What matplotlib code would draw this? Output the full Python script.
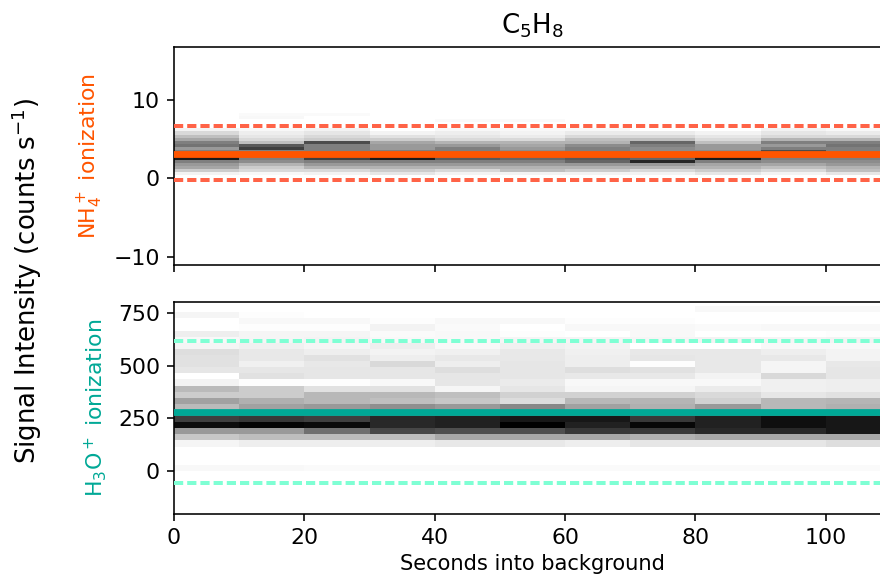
import numpy as np
import matplotlib
matplotlib.use("Agg")
import matplotlib.pyplot as plt

# ---------------- data ----------------
title = "C$_5$H$_8$"
time_edges = [0, 10, 20, 30, 40, 50, 60, 70, 80, 90, 100, 110]

# NH4+ panel: histogram rows (darkness 0-100), bins of 0.4 starting at 0.4
nh4_row_edges = [0.4, 0.8, 1.2, 1.6, 2.0, 2.4, 2.8, 3.2, 3.6, 4.0, 4.4,
                 4.8, 5.2, 5.6, 6.0, 6.4, 6.8, 7.2, 7.6, 8.0, 8.4]
# each list = one time bin (column), from lowest row to highest row
nh4_col0 = [5, 20, 35, 40, 50, 90, 60, 50, 40, 55, 50, 35, 25, 15, 5, 0, 0, 0, 0, 0]
nh4_col1 = [3, 15, 20, 30, 45, 50, 50, 50, 75, 65, 25, 15, 10, 7, 3, 0, 0, 0, 3, 2]
nh4_col2 = [5, 15, 30, 40, 50, 75, 50, 50, 50, 50, 70, 20, 15, 10, 5, 0, 0, 0, 0, 2]
nh4_col3 = [10, 20, 30, 40, 50, 90, 60, 50, 40, 40, 35, 20, 12, 5, 0, 0, 0, 0, 0, 0]
nh4_col4 = [5, 15, 30, 40, 50, 65, 60, 50, 50, 40, 30, 15, 10, 7, 3, 0, 0, 2, 0, 0]
nh4_col5 = [5, 25, 30, 40, 50, 60, 50, 45, 40, 35, 30, 15, 8, 5, 3, 0, 0, 2, 0, 0]
nh4_col6 = [5, 20, 30, 40, 60, 65, 50, 50, 50, 45, 30, 25, 15, 8, 3, 0, 0, 0, 0, 0]
nh4_col7 = [5, 15, 30, 40, 85, 60, 50, 45, 45, 50, 60, 25, 15, 8, 0, 0, 0, 0, 0, 0]
nh4_col8 = [10, 20, 30, 35, 50, 90, 50, 45, 40, 40, 25, 15, 10, 5, 0, 0, 0, 0, 0, 0]
nh4_col9 = [5, 15, 25, 35, 45, 50, 50, 70, 50, 40, 50, 30, 15, 10, 5, 0, 0, 0, 0, 0]
nh4_col10 = [10, 25, 30, 40, 45, 50, 90, 50, 50, 55, 50, 30, 15, 8, 3, 0, 0, 0, 0, 0]
nh4_median = 3.16
nh4_upper = 6.7
nh4_lower = -0.23

# H3O+ panel: histogram rows (darkness 0-100), bins of 29 starting at 0
h3o_row_edges = [0, 29, 58, 87, 116, 145, 174, 203, 232, 261, 290, 319, 348,
                 377, 406, 435, 464, 493, 522, 551, 580, 609, 638, 667, 696,
                 725, 754, 783]
h3o_col0 = [3, 0, 0, 0, 4, 22, 40, 95, 75, 55, 27, 37, 20, 27, 5, 0, 10, 12, 12, 13, 4, 3, 7, 0, 0, 4, 0]
h3o_col1 = [3, 0, 0, 0, 7, 26, 40, 98, 78, 55, 37, 31, 20, 20, 1, 12, 10, 6, 9, 9, 6, 4, 4, 1, 3, 1, 0]
h3o_col2 = [2, 0, 0, 0, 7, 26, 56, 96, 75, 55, 40, 28, 28, 12, 1, 10, 10, 9, 12, 7, 4, 5, 4, 1, 3, 0, 0]
h3o_col3 = [2, 0, 0, 0, 7, 26, 72, 84, 84, 55, 44, 25, 28, 12, 3, 10, 10, 15, 7, 5, 7, 3, 2, 5, 1, 0, 0]
h3o_col4 = [2, 0, 0, 0, 9, 34, 69, 87, 87, 55, 40, 22, 25, 4, 10, 10, 13, 7, 9, 6, 3, 3, 3, 2, 3, 0, 0]
h3o_col5 = [2, 0, 0, 0, 9, 34, 69, 100, 91, 55, 47, 14, 18, 10, 8, 10, 10, 10, 9, 9, 6, 4, 1, 0, 3, 0, 0]
h3o_col6 = [2, 0, 0, 0, 7, 34, 78, 87, 91, 55, 37, 28, 18, 4, 3, 9, 13, 7, 7, 6, 5, 4, 0, 3, 1, 0, 0]
h3o_col7 = [2, 0, 0, 0, 10, 31, 78, 97, 78, 55, 31, 29, 18, 4, 3, 9, 12, 1, 10, 9, 0, 4, 3, 3, 1, 0, 0]
h3o_col8 = [2, 0, 0, 0, 10, 34, 84, 87, 87, 55, 40, 18, 15, 8, 3, 5, 9, 9, 9, 9, 0, 5, 0, 2, 0, 0, 3]
h3o_col9 = [2, 0, 0, 0, 10, 34, 84, 94, 94, 55, 28, 28, 10, 6, 6, 15, 4, 4, 9, 7, 3, 4, 0, 3, 0, 0, 3]
h3o_col10 = [2, 0, 0, 0, 13, 34, 91, 91, 91, 55, 31, 29, 12, 7, 7, 10, 10, 9, 5, 5, 3, 5, 1, 3, 0, 0, 3]
h3o_median = 279
h3o_upper = 617
h3o_lower = -57

x_label = "Seconds into background"
y_label = "Signal Intensity (counts s$^{-1}$)"
nh4_label = "NH$_4^+$ ionization"
h3o_label = "H$_3$O$^+$ ionization"

# ---------------- styling ----------------
nh4_color = "#ff5500"
nh4_dash_color = "#ff6347"
h3o_color = "#00a896"
h3o_dash_color = "#7fffd4"

DPI = 144
fig = plt.figure(figsize=(880 / DPI, 580 / DPI), dpi=DPI)

ax1 = fig.add_axes([174 / 880, 1 - 264.8 / 580, 717 / 880, (264.8 - 47.4) / 580])
ax2 = fig.add_axes([174 / 880, 1 - 514 / 580, 717 / 880, (514 - 301.9) / 580], sharex=ax1)

nh4_grid = np.array([nh4_col0, nh4_col1, nh4_col2, nh4_col3, nh4_col4, nh4_col5,
                     nh4_col6, nh4_col7, nh4_col8, nh4_col9, nh4_col10]).T
h3o_grid = np.array([h3o_col0, h3o_col1, h3o_col2, h3o_col3, h3o_col4, h3o_col5,
                     h3o_col6, h3o_col7, h3o_col8, h3o_col9, h3o_col10]).T

ax1.pcolormesh(time_edges, nh4_row_edges, nh4_grid, cmap="gray_r", vmin=0, vmax=100,
               shading="flat", zorder=1)
ax2.pcolormesh(time_edges, h3o_row_edges, h3o_grid, cmap="gray_r", vmin=0, vmax=100,
               shading="flat", zorder=1)

dash = (0, (2.3, 1.0))
ax1.axhline(nh4_median, color=nh4_color, lw=3.4, zorder=3)
ax1.axhline(nh4_upper, color=nh4_dash_color, lw=2.0, ls=dash, zorder=3)
ax1.axhline(nh4_lower, color=nh4_dash_color, lw=2.0, ls=dash, zorder=3)
ax2.axhline(h3o_median, color=h3o_color, lw=3.4, zorder=3)
ax2.axhline(h3o_upper, color=h3o_dash_color, lw=2.0, ls=dash, zorder=3)
ax2.axhline(h3o_lower, color=h3o_dash_color, lw=2.0, ls=dash, zorder=3)

ax1.set_xlim(0, 110)
ax1.set_ylim(-11.0, 16.7)
ax2.set_ylim(-204, 803)
ax1.set_yticks([-10, 0, 10])
ax2.set_yticks([0, 250, 500, 750])
ax1.tick_params(labelbottom=False)
for ax in (ax1, ax2):
    ax.tick_params(labelsize=11)

ax1.set_title(title, fontsize=13, pad=7)
ax2.set_xlabel(x_label, fontsize=10.5, labelpad=3)
ax1.set_ylabel(nh4_label, color=nh4_color, fontsize=11, va="center")
ax2.set_ylabel(h3o_label, color=h3o_color, fontsize=11, va="center")
ax1.yaxis.set_label_coords((90 - 174) / 717, 0.5)
ax2.yaxis.set_label_coords((96 - 174) / 717, 0.5)
fig.text(27 / 880, 1 - 280.5 / 580, y_label, rotation=90, fontsize=13,
         ha="center", va="center")

fig.savefig("out.png", dpi=DPI)
